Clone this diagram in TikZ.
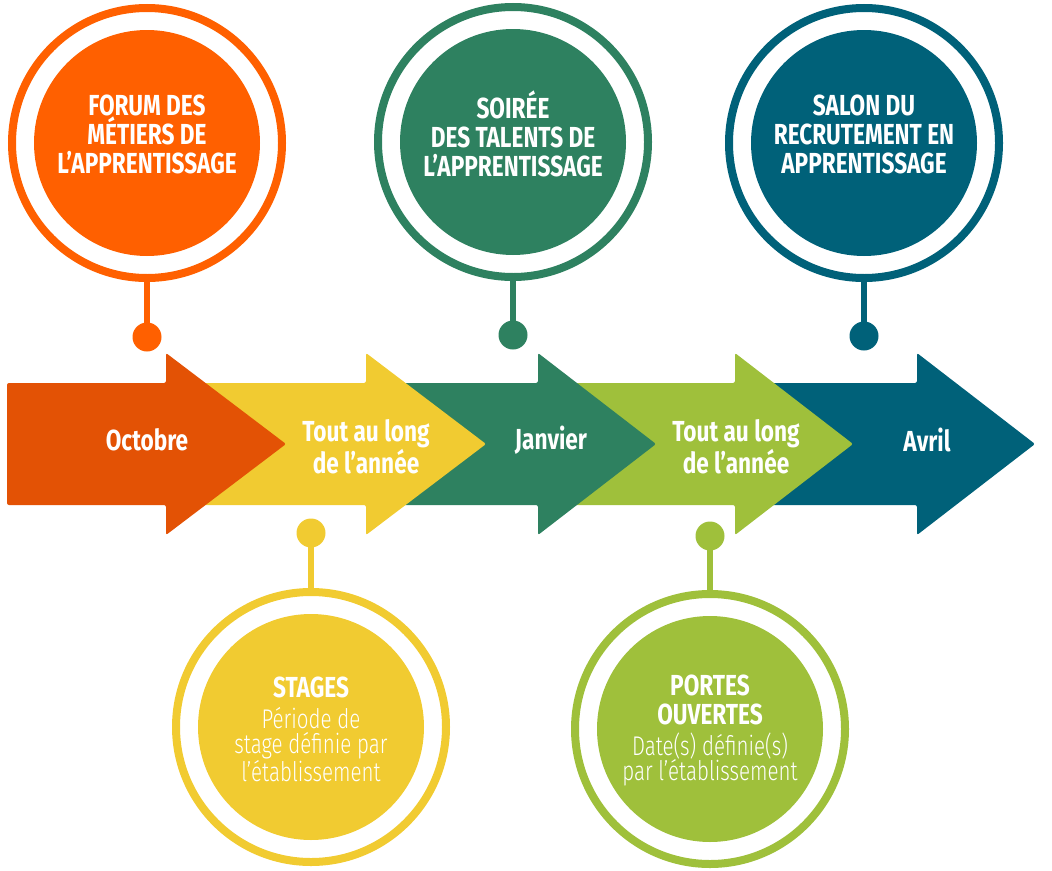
\documentclass[tikz,border=0pt]{standalone}
\usepackage{fontspec}
\setmainfont{Fira Sans}[FakeStretch=0.78]
\newfontfamily\fin{Fira Sans Light}[FakeStretch=0.76]
\usetikzlibrary{positioning}
\definecolor{orangevif}{HTML}{FF6000}
\definecolor{orangefonce}{HTML}{E35205}
\definecolor{jaune}{HTML}{F1CB31}
\definecolor{vert}{HTML}{2E8160}
\definecolor{vertclair}{HTML}{9FC03B}
\definecolor{bleu}{HTML}{006179}
\newcommand{\fleche}[4]{% couleur, debut, base, pointe
  \fill[#1,rounded corners=2pt] (#2,383) -- (#3,383) -- (#3,353) -- (#4,444)
    -- (#3,535) -- (#3,505) -- (#2,505) -- cycle;}
\tikzset{
    node style anneau/.style={draw,circle,line width=8pt,minimum size=270pt,inner sep=0pt},
    node style disque/.style={circle,minimum size=226pt,inner sep=0pt},
    node style point/.style={circle,minimum size=29pt,inner sep=0pt},
    node style fleche/.style={text=white,font=\bfseries\fontsize{29}{30}\selectfont,align=center},
    node style titre/.style={text=white,font=\bfseries\fontsize{29}{29}\selectfont,align=center},
    node style texte/.style={text=white,font=\fin\fontsize{27}{25}\selectfont,align=center},
    arrow style tige/.style={line width=6pt},
}

\begin{document}
\begin{tikzpicture}[x=1pt,y=-1pt]
\useasboundingbox (0,0) rectangle (1052,870);
% les flèches
\fleche{bleu}{735}{917}{1035}
\fleche{vertclair}{538}{735}{853}
\fleche{vert}{366}{538}{656}
\fleche{jaune}{166}{366}{486}
\fleche{orangefonce}{7}{166}{286}
\node [node style fleche] (octobre) at (147,440) {Octobre};
\node [node style fleche] (annee1) at (366,447) {Tout au long\\de l’année};
\node [node style fleche] (janvier) at (551,440) {Janvier};
\node [node style fleche] (annee2) at (736,447) {Tout au long\\de l’année};
\node [node style fleche] (avril) at (927,440) {Avril};
% les cercles du haut
\node [node style anneau,draw=orangevif] (forum) at (147,143) {};
\node [node style disque,fill=orangevif] (forumdisque) at (147,143) {};
\node [node style titre] (forumtitre) at (147,134) {FORUM DES\\MÉTIERS DE\\L’APPRENTISSAGE};
\node [node style point,fill=orangevif] (forumpt) at (147,337) {};
\draw [arrow style tige,orangevif] (forumpt.center) -- (forum.south);
\node [node style anneau,draw=vert] (soiree) at (513,142) {};
\node [node style disque,fill=vert] (soireedisque) at (513,142) {};
\node [node style titre] (soireetitre) at (513,134) {SOIRÉE\\DES TALENTS DE\\L’APPRENTISSAGE};
\node [node style point,fill=vert] (soireept) at (513,335) {};
\draw [arrow style tige,vert] (soireept.center) -- (soiree.south);
\node [node style anneau,draw=bleu] (salon) at (864,143) {};
\node [node style disque,fill=bleu] (salondisque) at (864,143) {};
\node [node style titre] (salontitre) at (864,134) {SALON DU\\RECRUTEMENT EN\\APPRENTISSAGE};
\node [node style point,fill=bleu] (salonpt) at (864,336) {};
\draw [arrow style tige,bleu] (salonpt.center) -- (salon.south);
% les cercles du bas
\node [node style anneau,draw=jaune] (stages) at (311,727) {};
\node [node style disque,fill=jaune] (stagesdisque) at (311,727) {};
\node [node style titre] (stagestitre) at (311,687) {STAGES};
\node [node style texte,below=3pt of stagestitre] (stagesdesc)
    {Période de\\stage définie par\\l’établissement};
\node [node style point,fill=jaune] (stagespt) at (311,533) {};
\draw [arrow style tige,jaune] (stagespt.center) -- (stages.north);
\node [node style anneau,draw=vertclair] (portes) at (710,729) {};
\node [node style disque,fill=vertclair] (portesdisque) at (710,729) {};
\node [node style titre] (portestitre) at (710,700) {PORTES\\OUVERTES};
\node [node style texte,below=1pt of portestitre] (portesdesc)
    {Date(s) définie(s)\\par l’établissement};
\node [node style point,fill=vertclair] (portespt) at (710,536) {};
\draw [arrow style tige,vertclair] (portespt.center) -- (portes.north);
\end{tikzpicture}
\end{document}
